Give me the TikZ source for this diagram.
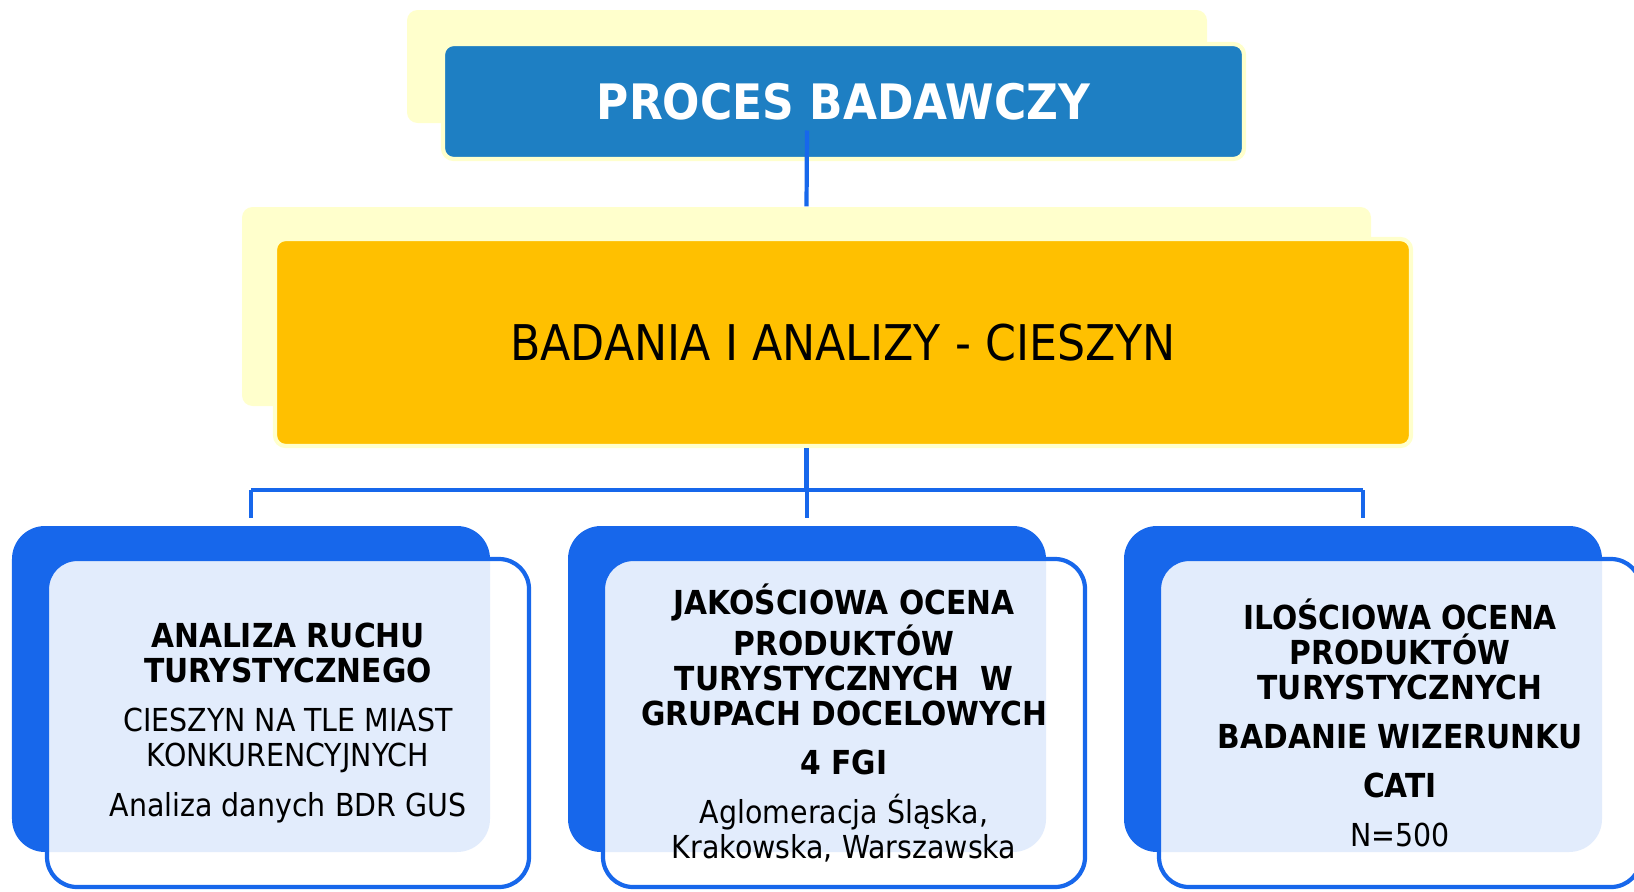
\documentclass[tikz,border=0pt]{standalone}
\usepackage{fontspec}
\setmainfont{DejaVu Sans}[FakeStretch=0.9]
\usepackage{tikz}
\usetikzlibrary{positioning}

\definecolor{paleyellow}{HTML}{FFFFCC}
\definecolor{titleblue}{HTML}{1E7FC3}
\definecolor{amber}{HTML}{FFC000}
\definecolor{linkblue}{HTML}{1767EB}

\newcommand\hd[1]{{\fontsize{9.4}{9.96}\selectfont\bfseries #1}}

\begin{document}
\begin{tikzpicture}[
  backcard/.style={rounded corners=3pt,fill=paleyellow,inner sep=0pt},
  headcard/.style={rounded corners=3pt,draw=paleyellow,line width=1.2pt,inner sep=0pt},
  bluecard/.style={rounded corners=0.33cm,fill=linkblue,inner sep=0pt,minimum width=4.78cm,minimum height=3.26cm},
  textcard/.style={rounded corners=0.3cm,draw=linkblue,line width=1.2pt,fill=white,fill opacity=0.88,text opacity=1,
    inner sep=0pt,minimum width=4.82cm,minimum height=3.28cm,align=center,font=\fontsize{9.0}{9.96}\selectfont},
  link/.style={draw=linkblue,line width=1.2pt}
]
\useasboundingbox (0,0) rectangle (16.34,8.91);

% top
\node[backcard,minimum width=8.0cm,minimum height=1.13cm] (titleback) at (8.07,8.245) {};
\node[headcard,fill=titleblue,minimum width=8.01cm,minimum height=1.15cm,text=white,
  font=\fontsize{13.9}{16}\selectfont\bfseries] (title) at (8.435,7.895) {PROCES BADAWCZY};

% middle
\node[backcard,minimum width=11.29cm,minimum height=1.99cm] (midback) at (8.065,5.845) {};
\node[headcard,fill=amber,minimum width=11.36cm,minimum height=2.07cm,
  font=\fontsize{14}{16}\selectfont] (mid) at (8.43,5.485) {BADANIA I ANALIZY - CIESZYN};

\draw[link] (titleback.center |- title.center) ++(0,-0.29) -- (midback.north);

% bottom
\foreach \i/\x in {1/2.51,2/8.07,3/13.63}
  \node[bluecard] (back\i) at (\x,2.02) {};

\node[textcard] (res1) at (2.88,1.68)
  {\hd{ANALIZA RUCHU}\\\hd{TURYSTYCZNEGO}\\[4pt]
   CIESZYN NA TLE MIAST\\KONKURENCYJNYCH\\[4pt]
   Analiza danych BDR GUS};
\node[textcard] (res2) at (8.44,1.68)
  {\hd{JAKOŚCIOWA OCENA}\\\hd{PRODUKTÓW}\\\hd{TURYSTYCZNYCH\ \ W}\\\hd{GRUPACH DOCELOWYCH}\\[4pt]
   \hd{4 FGI}\\[4pt]
   Aglomeracja Śląska,\\Krakowska, Warszawska};
\node[textcard] (res3) at (14.00,1.68)
  {\hd{ILOŚCIOWA OCENA}\\\hd{PRODUKTÓW}\\\hd{TURYSTYCZNYCH}\\[4pt]
   \hd{BADANIE WIZERUNKU}\\[4pt]
   \hd{CATI}\\[4pt]
   N=500};

% links down
\coordinate (bus) at (8.08,4.01);
\draw[link] (midback.center |- mid.south) -- (midback.center |- bus);
\draw[link] (back1.north |- bus) -- (back3.north |- bus);
\foreach \b in {back1,back2,back3}
  \draw[link,shorten >=0.07cm] (\b.north |- bus) -- (\b.north);
\end{tikzpicture}
\end{document}
